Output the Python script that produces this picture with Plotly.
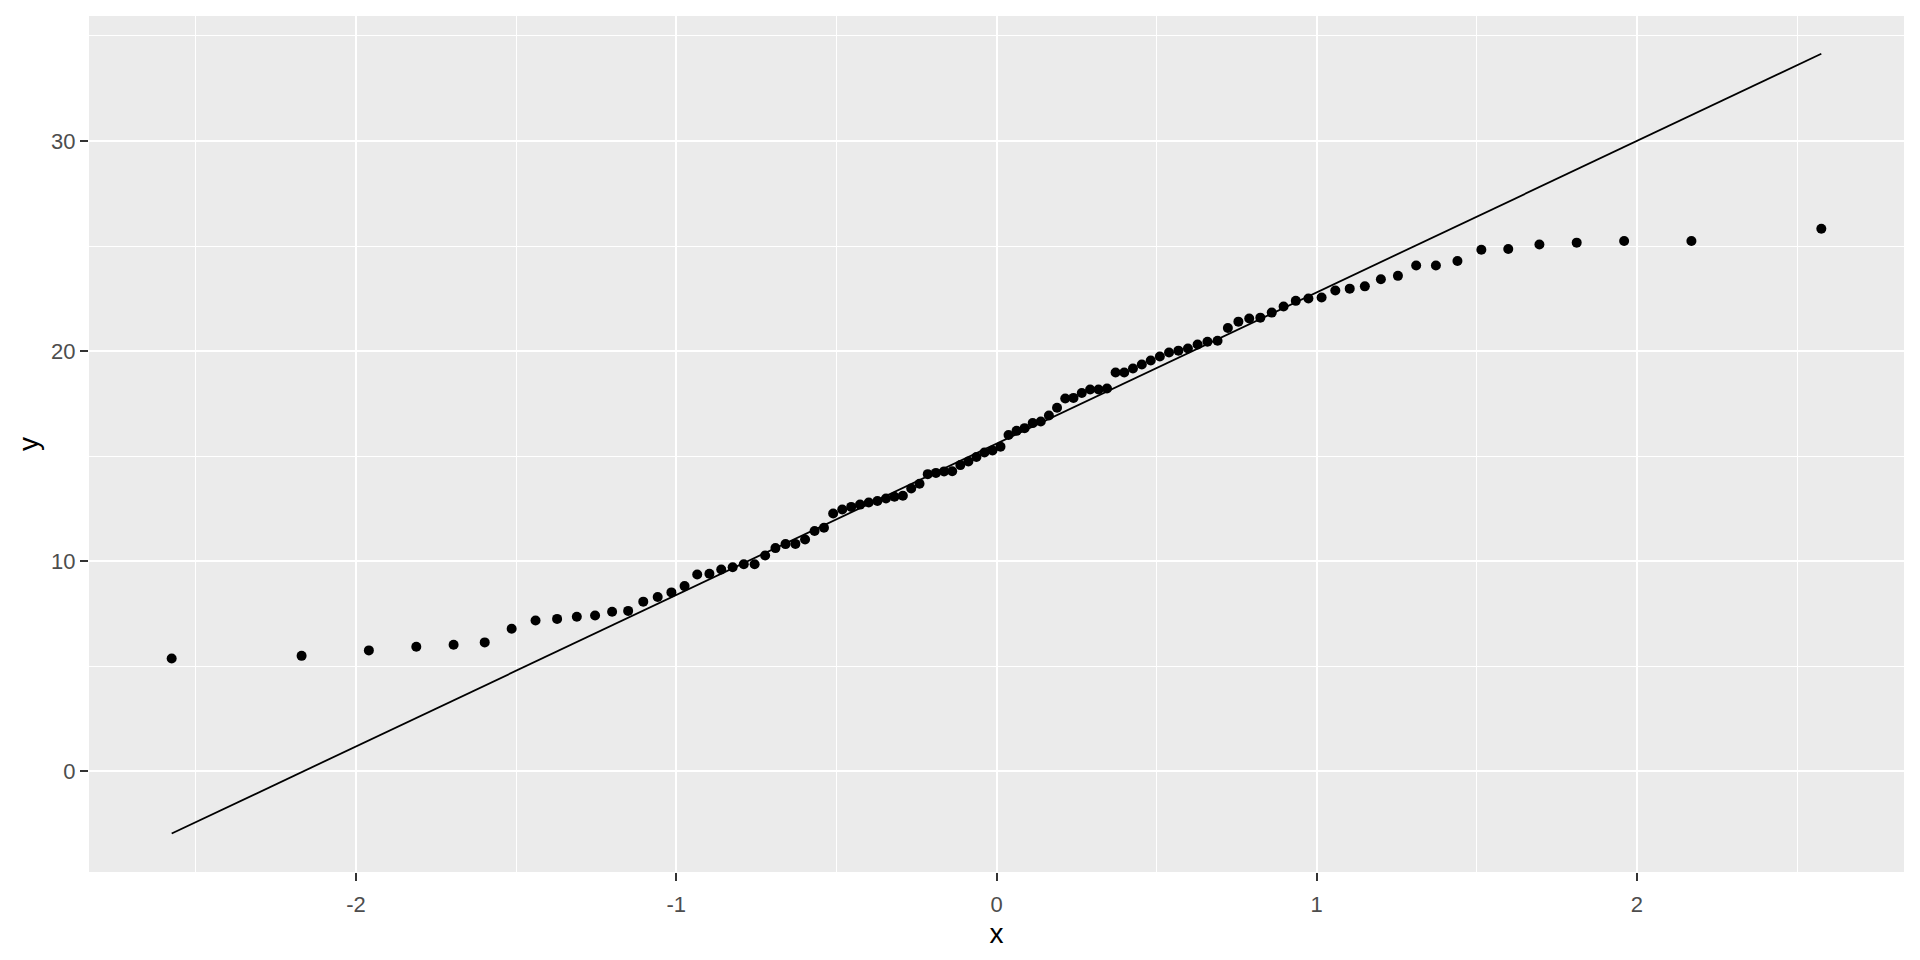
import plotly.graph_objects as go

# Theoretical normal quantiles (x) and sorted sample values (y)
theoretical = [
    -2.5758, -2.1701, -1.9600, -1.8119, -1.6954, -1.5982, -1.5141, -1.4395, -1.3722, -1.3106,
    -1.2536, -1.2004, -1.1503, -1.1031, -1.0581, -1.0152, -0.9741, -0.9346, -0.8965, -0.8596,
    -0.8239, -0.7892, -0.7554, -0.7225, -0.6903, -0.6588, -0.6280, -0.5978, -0.5681, -0.5388,
    -0.5101, -0.4817, -0.4538, -0.4261, -0.3989, -0.3719, -0.3451, -0.3186, -0.2924, -0.2663,
    -0.2404, -0.2147, -0.1891, -0.1637, -0.1383, -0.1130, -0.0878, -0.0627, -0.0376, -0.0125,
    0.0125, 0.0376, 0.0627, 0.0878, 0.1130, 0.1383, 0.1637, 0.1891, 0.2147, 0.2404,
    0.2663, 0.2924, 0.3186, 0.3451, 0.3719, 0.3989, 0.4261, 0.4538, 0.4817, 0.5101,
    0.5388, 0.5681, 0.5978, 0.6280, 0.6588, 0.6903, 0.7225, 0.7554, 0.7892, 0.8239,
    0.8596, 0.8965, 0.9346, 0.9741, 1.0152, 1.0581, 1.1031, 1.1503, 1.2004, 1.2536,
    1.3106, 1.3722, 1.4395, 1.5141, 1.5982, 1.6954, 1.8119, 1.9600, 2.1701, 2.5758,
]

sample = [
    5.36, 5.49, 5.75, 5.92, 6.02, 6.13, 6.78, 7.17, 7.25, 7.35,
    7.41, 7.59, 7.63, 8.07, 8.29, 8.51, 8.81, 9.36, 9.40, 9.60,
    9.71, 9.85, 9.85, 10.27, 10.62, 10.81, 10.82, 11.03, 11.43, 11.59,
    12.27, 12.46, 12.58, 12.69, 12.79, 12.86, 12.98, 13.06, 13.11, 13.46,
    13.68, 14.14, 14.20, 14.27, 14.28, 14.57, 14.74, 14.96, 15.17, 15.27,
    15.45, 16.00, 16.20, 16.33, 16.57, 16.65, 16.93, 17.30, 17.74, 17.77,
    18.00, 18.17, 18.17, 18.22, 18.98, 18.98, 19.17, 19.36, 19.55, 19.74,
    19.93, 20.02, 20.12, 20.31, 20.44, 20.49, 21.10, 21.40, 21.55, 21.59,
    21.83, 22.12, 22.39, 22.50, 22.55, 22.88, 22.97, 23.08, 23.42, 23.58,
    24.07, 24.07, 24.29, 24.82, 24.86, 25.07, 25.16, 25.24, 25.24, 25.82,
]

# Reference (qq) line endpoints
qq_line_x = [-2.5758, 2.5758]
qq_line_y = [-2.97, 34.15]

x_ticks = [-2, -1, 0, 1, 2]
y_ticks = [0, 10, 20, 30]

FONT = "Arial, 'Liberation Sans', sans-serif"

fig = go.Figure()
fig.add_trace(go.Scatter(
    x=theoretical, y=sample, mode="markers",
    marker=dict(color="black", size=10, line=dict(width=0)),
    showlegend=False,
))
fig.add_trace(go.Scatter(
    x=qq_line_x, y=qq_line_y, mode="lines",
    line=dict(color="black", width=1.8),
    showlegend=False,
))

axis_common = dict(
    showgrid=True, gridcolor="white", gridwidth=2,
    zeroline=False, showline=False,
    ticks="outside", ticklen=8, tickwidth=2, tickcolor="#333333",
    tickfont=dict(family=FONT, size=22, color="#4D4D4D"),
    automargin=False,
)

# page body has an 8px margin, so the figure is sized/offset to compensate
fig.update_layout(
    width=1912, height=952,
    paper_bgcolor="white", plot_bgcolor="#EBEBEB",
    margin=dict(l=81, r=16, t=8, b=88),
    xaxis=dict(
        range=[-2.834, 2.834], tickvals=x_ticks, ticktext=[str(v) for v in x_ticks],
        minor=dict(dtick=0.5, tick0=-2.5, showgrid=True, gridcolor="white", gridwidth=1),
        title=dict(text="x", font=dict(family=FONT, size=28, color="black"), standoff=6),
        ticklabelstandoff=5,
        **axis_common,
    ),
    yaxis=dict(
        range=[-4.8, 35.95], tickvals=y_ticks, ticktext=[str(v) for v in y_ticks],
        minor=dict(dtick=5, tick0=-5, showgrid=True, gridcolor="white", gridwidth=1),
        title=dict(text="y", font=dict(family=FONT, size=28, color="black"), standoff=4),
        **axis_common,
    ),
)

fig.write_html("out.html")
